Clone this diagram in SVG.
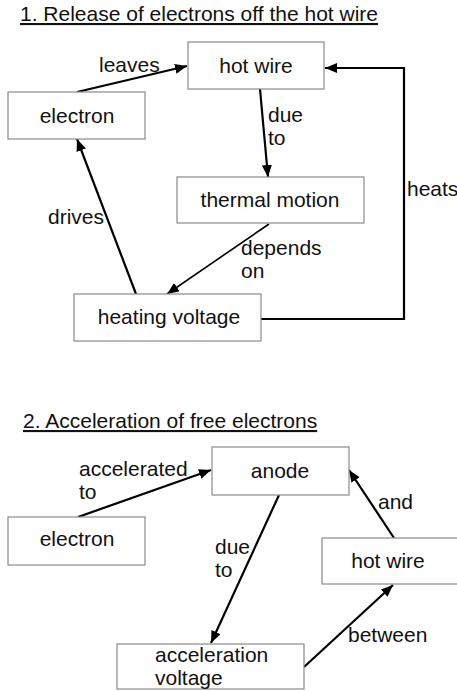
<svg xmlns="http://www.w3.org/2000/svg" width="457" height="691" viewBox="0 0 457 691">
<style>
text{font-family:"Liberation Sans",Arial,sans-serif;font-size:21px;fill:#111}
.t{text-decoration:underline}
.box{fill:#fff;stroke:#8a8a8a;stroke-width:1.2}
.c{text-anchor:middle}
.e{fill:none;stroke:#000;stroke-width:2.2}
.th{stroke-width:1.6}
</style>
<defs>
<marker id="ah" markerUnits="userSpaceOnUse" viewBox="0 0 12 10" refX="12" refY="5" markerWidth="12" markerHeight="10" orient="auto">
<path d="M0,0 L12,5 L0,10 Z" fill="#000"/>
</marker>
</defs>
<rect width="457" height="691" fill="#fff"/>
<text class="t" x="20" y="21">1. Release of electrons off the hot wire</text>
<text class="t" x="23" y="428">2. Acceleration of free electrons</text>

<g id="connectors">
<path class="e" d="M77,92 L187,66" marker-end="url(#ah)"/>
<path class="e" d="M261,319 H404 V68 H325" marker-end="url(#ah)"/>
<path class="e" d="M260,89 L268,177" marker-end="url(#ah)"/>
<path class="e th" d="M269,224 L167,294" marker-end="url(#ah)"/>
<path class="e" d="M136,294 L77,139" marker-end="url(#ah)"/>
<path class="e" d="M78,517 L211,470" marker-end="url(#ah)"/>
<path class="e" d="M394,538 L349,470" marker-end="url(#ah)"/>
<path class="e" d="M279,495 L211,643" marker-end="url(#ah)"/>
<path class="e" d="M304,667 L393,585" marker-end="url(#ah)"/>
<text x="99" y="72">leaves</text>
<text x="407" y="196">heats</text>
<text x="268" y="122">due</text>
<text x="268" y="145">to</text>
<text x="241" y="255">depends</text>
<text x="241" y="278">on</text>
<text x="48" y="224">drives</text>
<text x="79" y="476">accelerated</text>
<text x="79" y="499">to</text>
<text x="378" y="509">and</text>
<text x="215" y="554">due</text>
<text x="215" y="577">to</text>
<text x="348" y="642">between</text>
</g>

<g id="hotwire1"><rect class="box" x="188" y="42" width="136" height="47"/><text class="c" x="256" y="73">hot wire</text></g>
<g id="electron1"><rect class="box" x="8" y="92" width="137" height="47"/><text class="c" x="77" y="123">electron</text></g>
<g id="thermal"><rect class="box" x="177" y="177" width="187" height="46"/><text class="c" x="270" y="207">thermal motion</text></g>
<g id="heating"><rect class="box" x="74" y="294" width="187" height="47"/><text class="c" x="169" y="324">heating voltage</text></g>
<g id="anode"><rect class="box" x="212" y="447" width="137" height="48"/><text class="c" x="280" y="478">anode</text></g>
<g id="electron2"><rect class="box" x="8" y="517" width="137" height="48"/><text class="c" x="77" y="546">electron</text></g>
<g id="hotwire2"><rect class="box" x="322" y="538" width="140" height="46"/><text class="c" x="388" y="568">hot wire</text></g>
<g id="accel"><rect class="box" x="117" y="644" width="187" height="45"/><text x="155" y="662">acceleration</text><text x="155" y="685">voltage</text></g>
</svg>
